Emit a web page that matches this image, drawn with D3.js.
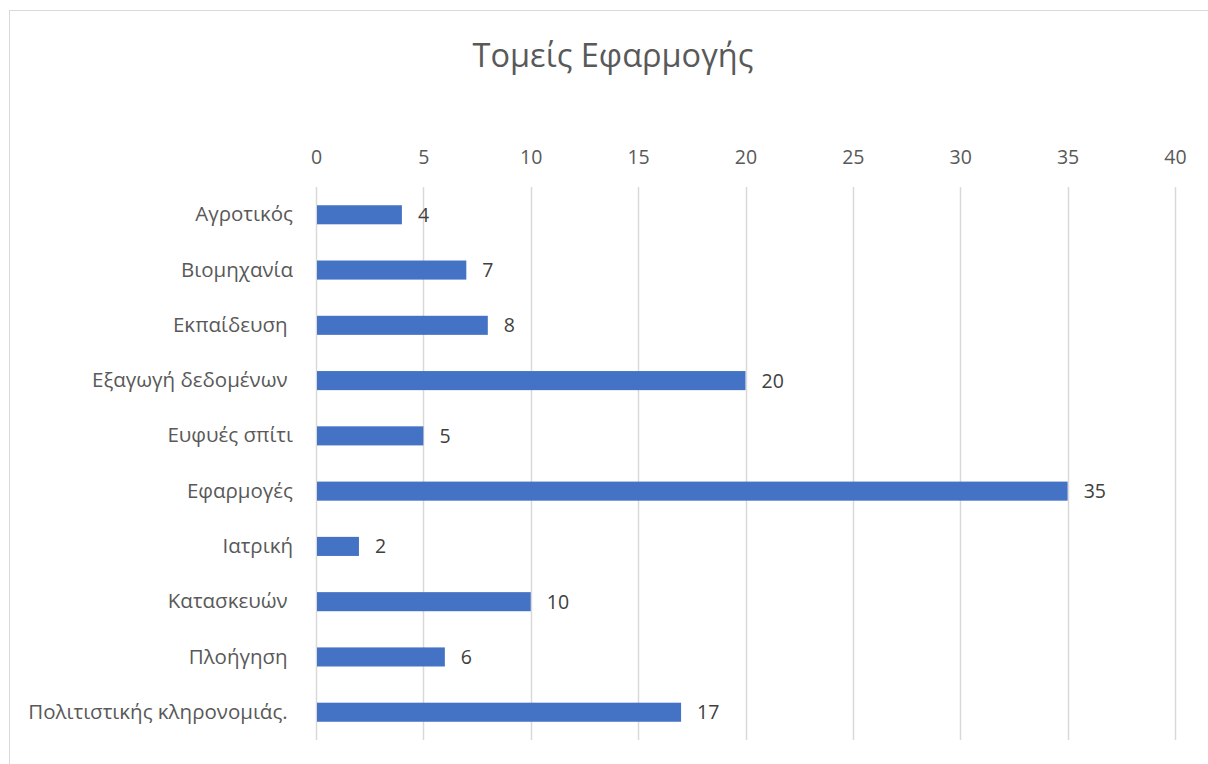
<!DOCTYPE html>
<html><head><meta charset="utf-8">
<script src="https://cdn.jsdelivr.net/npm/d3@7"></script>
<style>body{margin:0;background:#fff}svg{display:block}text{font-family:"Open Sans","Noto Sans",sans-serif;fill:#595959;white-space:pre}</style>
</head><body><svg id="c" width="1208" height="764"></svg>
<script>
const categories = ["Αγροτικός","Βιομηχανία","Εκπαίδευση ","Εξαγωγή δεδομένων ","Ευφυές σπίτι","Εφαρμογές","Ιατρική","Κατασκευών ","Πλοήγηση ","Πολιτιστικής κληρονομιάς. "];
const values = [4,7,8,20,5,35,2,10,6,17];
const xTicks = [0,5,10,15,20,25,30,35,40];
const title = "Τομείς Εφαρμογής";

const svg = d3.select("#c");
svg.append("rect").attr("x",9.5).attr("y",10.5).attr("width",1210).attr("height",770)
  .attr("fill","none").attr("stroke","#d9d9d9");

const x = d3.scaleLinear().domain([0,40]).range([316,1175]);
const y = d3.scaleBand().domain(categories).range([187,740]).paddingInner(0.655).paddingOuter(0.33);

svg.append("text").attr("x",613).attr("y",67).attr("text-anchor","middle")
  .style("font-size","32.5px").text(title);

const g = svg.append("g");
g.selectAll("line.grid").data(xTicks).join("line").attr("class","grid")
  .attr("x1",d=>Math.round(x(d))+0.5).attr("x2",d=>Math.round(x(d))+0.5)
  .attr("y1",187).attr("y2",740).attr("stroke","#d9d9d9").attr("stroke-width",1.5);

const xAxis = d3.axisTop(x).tickValues(xTicks).tickSize(0).tickPadding(0);
const ax = svg.append("g").attr("transform","translate(0,164)").call(xAxis);
ax.attr("font-family",null);
ax.select(".domain").remove();
ax.selectAll("text").style("font-size","19.5px").attr("fill",null);

const yAxis = d3.axisLeft(y).tickSize(0).tickPadding(23);
const ay = svg.append("g").attr("transform","translate(316,0)").call(yAxis);
ay.attr("font-family",null);
ay.select(".domain").remove();
ay.selectAll("text").style("font-size","20.5px").attr("fill",null);

g.selectAll("rect.bar").data(values).join("rect").attr("class","bar")
  .attr("x",x(0)+1).attr("y",(d,i)=>y(categories[i]))
  .attr("width",d=>x(d)-x(0)-1).attr("height",y.bandwidth()).attr("fill","#4472C4");

g.selectAll("text.lbl").data(values).join("text").attr("class","lbl")
  .attr("x",d=>x(d)+16).attr("y",(d,i)=>y(categories[i])+y.bandwidth()/2)
  .attr("dy","0.36em").style("font-size","19.5px").style("fill","#404040").text(d=>d);
</script></body></html>
